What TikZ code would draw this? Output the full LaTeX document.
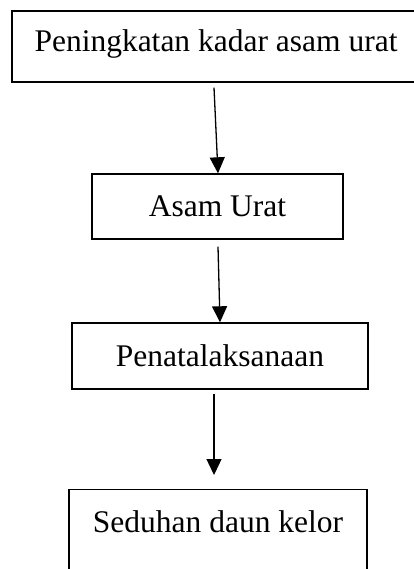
\documentclass[tikz,border=0pt]{standalone}
\usepackage{fontspec}
\setmainfont{Liberation Serif}
\usetikzlibrary{arrows.meta}

\tikzset{
  kotak/.style={draw, line width=1.4pt, fill=none, align=center,
    font=\fontsize{31.5}{38}\selectfont, inner sep=0pt},
  panah/.style={line width=1.3pt, -{Triangle[length=16pt,width=15pt]}}
}

\begin{document}
\begin{tikzpicture}[x=1pt, y=-1pt]
          \useasboundingbox (0,0) rectangle (414,569);
          \clip (0,0) rectangle (414,569);
          % Kotak alur
          \node[kotak, minimum width=408pt, minimum height=71pt, text depth=12pt] (naik) at (216,46.5) {Peningkatan kadar asam urat};
          \node[kotak, minimum width=251pt, minimum height=65pt] (asam) at (217.5,206.5) {Asam Urat};
          \node[kotak, minimum width=296pt, minimum height=66pt] (tata) at (220,356) {Penatalaksanaan};
          \node[kotak, minimum width=298pt, minimum height=101pt, anchor=north] (kelor) at (218,489) {Seduhan daun kelor\\ \mbox{}};
          % Panah
          \draw[panah] ([xshift=-2pt,yshift=-5pt]naik.south) -- ([xshift=0.5pt]asam.north);
          \draw[panah] ([xshift=0.5pt,yshift=-7pt]asam.south) -- (tata.north);
          \draw[panah] ([xshift=-6pt,yshift=-4pt]tata.south) -- ([xshift=-4pt,yshift=14pt]kelor.north);
\end{tikzpicture}
\end{document}
